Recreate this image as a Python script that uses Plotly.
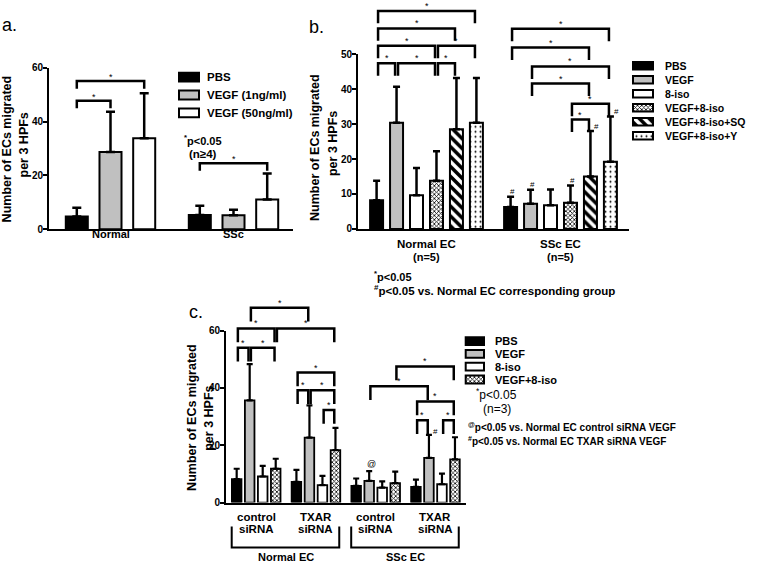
import plotly.graph_objects as go

FONT = "Liberation Sans"
W, H = 757, 567
BLACK = "black"
GRAY = "#c0c0c0"

# ---------------- panel a data ----------------
a_groups = ["Normal", "SSc"]
a_series = ["PBS", "VEGF (1ng/ml)", "VEGF (50ng/ml)"]
a_mean_pbs = [4.7, 5.3]
a_mean_vegf1 = [28.7, 5.2]
a_mean_vegf50 = [33.8, 11.0]
a_sd_pbs = [3.3, 3.4]
a_sd_vegf1 = [14.9, 2.0]
a_sd_vegf50 = [16.7, 9.7]
a_yticks = [0, 20, 40, 60]
# (group1, series1, group2, series2, bracket level)
a_sig = [(0, 0, 0, 1, 47.7), (0, 0, 0, 2, 55.0), (1, 0, 1, 2, 24.5)]

# ---------------- panel b data ----------------
b_groups = ["Normal EC", "SSc EC"]
b_group_n = ["(n=5)", "(n=5)"]
b_series = ["PBS", "VEGF", "8-iso", "VEGF+8-iso", "VEGF+8-iso+SQ", "VEGF+8-iso+Y"]
b_mean_pbs = [8.2, 6.3]
b_mean_vegf = [30.4, 7.2]
b_mean_iso = [9.6, 6.8]
b_mean_vegf_iso = [13.8, 7.5]
b_mean_sq = [28.5, 15.0]
b_mean_y = [30.4, 19.2]
b_sd_pbs = [5.6, 2.9]
b_sd_vegf = [10.3, 4.0]
b_sd_iso = [7.8, 4.5]
b_sd_vegf_iso = [8.4, 4.9]
b_sd_sq = [14.7, 13.0]
b_sd_y = [12.8, 13.0]
b_yticks = [0, 10, 20, 30, 40, 50]
b_sig = [(0, 0, 0, 1, 47.4), (0, 1, 0, 3, 47.4), (0, 3, 0, 4, 47.4),
         (0, 0, 0, 3, 52.4), (0, 3, 0, 5, 52.4), (0, 0, 0, 4, 57.4),
         (0, 0, 0, 5, 62.4),
         (1, 0, 1, 5, 57.3), (1, 0, 1, 4, 51.9), (1, 1, 1, 5, 46.5),
         (1, 1, 1, 4, 41.6), (1, 3, 1, 5, 35.8), (1, 3, 1, 4, 31.3)]
b_hash_top = [(1, 0), (1, 1), (1, 3)]
b_hash_side = [(1, 4), (1, 5)]

# ---------------- panel c data ----------------
c_group_line1 = ["control", "TXAR", "control", "TXAR"]
c_group_line2 = ["siRNA", "siRNA", "siRNA", "siRNA"]
c_super_groups = ["Normal EC", "SSc EC"]
c_series = ["PBS", "VEGF", "8-iso", "VEGF+8-iso"]
c_mean_pbs = [8.2, 7.2, 5.8, 5.5]
c_mean_vegf = [35.7, 22.7, 7.6, 15.6]
c_mean_iso = [9.1, 6.1, 5.2, 6.4]
c_mean_vegf_iso = [11.8, 18.3, 6.8, 15.1]
c_sd_pbs = [3.6, 4.2, 2.6, 2.5]
c_sd_vegf = [12.6, 11.2, 3.4, 8.0]
c_sd_iso = [3.7, 3.2, 2.2, 3.7]
c_sd_vegf_iso = [3.5, 7.8, 4.0, 7.7]
c_yticks = [0, 20, 40, 60]
c_sig = [(0, 0, 0, 1, 54.0), (0, 1, 0, 3, 54.0), (0, 0, 0, 3, 60.8),
         (0, 3, 1, 3, 60.8), (0, 1, 1, 1, 68.0),
         (1, 0, 1, 1, 39.2), (1, 1, 1, 3, 39.2), (1, 0, 1, 3, 45.4),
         (1, 2, 1, 3, 32.3),
         (2, 1, 3, 1, 40.6), (2, 3, 3, 3, 47.5), (3, 0, 3, 3, 35.3),
         (3, 0, 3, 1, 28.7), (3, 2, 3, 3, 28.7)]
c_at_mark = [(2, 1)]
c_hash_mark = [(3, 1)]


# ---------------- styles ----------------
def pattern(shape, size, solidity):
    return dict(shape=shape, size=size, solidity=solidity, fgcolor=BLACK,
                bgcolor="white", fillmode="replace")


STYLE = {
    "PBS": dict(color=BLACK),
    "VEGF (1ng/ml)": dict(color=GRAY),
    "VEGF (50ng/ml)": dict(color="white"),
    "VEGF": dict(color=GRAY),
    "8-iso": dict(color="white"),
    "VEGF+8-iso": dict(color="white", pattern=pattern("x", 3, 0.45)),
    "VEGF+8-iso+SQ": dict(color="white", pattern=pattern("\\", 7, 0.5)),
    "VEGF+8-iso+Y": dict(color="white", pattern=pattern(".", 5, 0.12)),
}


def marker_for(name, lw):
    st = STYLE[name]
    m = dict(color=st["color"], line=dict(color=BLACK, width=lw))
    if "pattern" in st:
        m["pattern"] = st["pattern"]
    return m


def fx(p):
    return p / W


def fy(p):
    return 1 - p / H


fig = go.Figure()
ann = []
shapes = []
layout_axes = {}


def axis_name(a):
    return a[0] + "axis" + (a[1:] if len(a) > 1 else "")


def setup_panel(xa, ya, yb, xpx, g0px, unit, ybot, ytop, ymax, ybr_top, ticks):
    xr = [(xpx[0] - g0px) / unit, (xpx[1] - g0px) / unit]
    layout_axes[axis_name(xa)] = dict(
        domain=[fx(xpx[0]), fx(xpx[1])], range=xr, anchor=ya, showline=True,
        linewidth=2, linecolor=BLACK, ticks="", showticklabels=False,
        showgrid=False, zeroline=False, fixedrange=True)
    layout_axes[axis_name(ya)] = dict(
        domain=[fy(ybot), fy(ytop)], range=[0, ymax], anchor=xa, showline=True,
        linewidth=2, linecolor=BLACK, ticks="outside", ticklen=4, tickwidth=2,
        tickcolor=BLACK, tickvals=ticks, ticklabelstandoff=-2,
        tickfont=dict(family=FONT, size=10, color=BLACK, weight="bold"),
        showgrid=False, zeroline=False, fixedrange=True)
    ppu = (ybot - ytop) / ymax
    layout_axes[axis_name(yb)] = dict(
        domain=[fy(ybot), fy(ybr_top)], range=[0, (ybot - ybr_top) / ppu],
        anchor=xa, visible=False, fixedrange=True)


def pos(g, s, ns, step):
    return g + (s - (ns - 1) / 2) * step


def add_bars(xa, ya, series, means, sds, step, width, lw, capw, thick):
    ns = len(series)
    for s, name in enumerate(series):
        xs = [pos(g, s, ns, step) for g in range(len(means[s]))]
        fig.add_trace(go.Bar(
            x=xs, y=means[s], width=width, marker=marker_for(name, lw),
            error_y=dict(type="data", array=sds[s], arrayminus=[0] * len(sds[s]),
                         symmetric=False, color=BLACK, thickness=thick, width=capw),
            xaxis=xa, yaxis=ya, showlegend=False, hoverinfo="skip"))


def add_brackets(xa, yb, ns, step, sig, leg, inset, star_dy, star_size, lw):
    xs, ys = [], []
    for g1, s1, g2, s2, lvl in sig:
        x1 = pos(g1, s1, ns, step) + inset
        x2 = pos(g2, s2, ns, step) - inset
        xs += [x1, x1, x2, x2, None]
        ys += [lvl - leg, lvl, lvl, lvl - leg, None]
        ann.append(dict(x=(x1 + x2) / 2, y=lvl, xref=xa, yref=yb, text="*",
                        showarrow=False, yanchor="middle", yshift=star_dy,
                        font=dict(family=FONT, size=star_size, color=BLACK)))
    fig.add_trace(go.Scatter(x=xs, y=ys, mode="lines",
                             line=dict(color=BLACK, width=lw),
                             xaxis=xa, yaxis=yb, showlegend=False,
                             hoverinfo="skip"))


def add_legend(xl, yl, series, sx0, sx1, first, step, thick_px, lw, size, gap):
    n = len(series)
    pad = 4.0
    w = sx1 - sx0
    layout_axes[axis_name(xl)] = dict(
        domain=[fx(sx0 - pad), fx(sx1 + pad)], range=[-pad / w, 1 + pad / w],
        anchor=yl, visible=False, fixedrange=True)
    layout_axes[axis_name(yl)] = dict(
        domain=[fy(first + (n - 0.5) * step), fy(first - step / 2)],
        range=[n - 0.5, -0.5], anchor=xl, visible=False, fixedrange=True)
    for i, name in enumerate(series):
        fig.add_trace(go.Bar(x=[1], y=[i], base=[0], orientation="h",
                             width=thick_px / step, marker=marker_for(name, lw),
                             xaxis=xl, yaxis=yl, showlegend=False,
                             hoverinfo="skip"))
        ann.append(dict(x=1, y=i, xref=xl, yref=yl, text=name, showarrow=False,
                        xanchor="left", yanchor="middle", xshift=gap,
                        font=dict(family=FONT, size=size, color=BLACK,
                                  weight="bold")))


def text(x, y, t, size, xref="paper", xanchor="center", bold=True, angle=0,
         yanchor="middle"):
    ann.append(dict(x=x, y=fy(y), xref=xref, yref="paper", text=t,
                    showarrow=False, xanchor=xanchor, yanchor=yanchor,
                    textangle=angle,
                    font=dict(family=FONT, size=size, color=BLACK,
                              weight="bold" if bold else "normal")))


TITLE_SIZE = 12.5

# ================= panel a =================
A_STEP = 0.274
setup_panel("x", "y", "y4", (49, 293), 110.5, 123, 228, 63, 60, 40, a_yticks)
add_bars("x", "y", a_series,
         [a_mean_pbs, a_mean_vegf1, a_mean_vegf50],
         [a_sd_pbs, a_sd_vegf1, a_sd_vegf50],
         A_STEP, 0.179, 2, 4.5, 2.5)
add_brackets("x", "y4", 3, A_STEP, a_sig, 2.8, 0.0, 4, 9, 2.5)
add_legend("x7", "y7", a_series, 179, 199, 72.7, 18.2, 9, 2, 11.5, 6)
for g, lab in enumerate(a_groups):
    text(g, 233, lab, 11, xref="x")
text(fx(7), 146.5, "Number of ECs migrated", TITLE_SIZE, angle=-90)
text(fx(24), 142.5, "per 3 HPFs", TITLE_SIZE, angle=-90)
text(fx(0), 19, "a.", 18, xanchor="left", bold=False)
text(fx(182), 137, "<sup>*</sup>p<0.05", 11, xanchor="left")
text(fx(187), 151, "(n≥4)", 11.5, xanchor="left")

# ================= panel b =================
B_STEP = 0.149
setup_panel("x2", "y2", "y5", (358, 629), 426.5, 134, 227.7, 49.3, 50, 0, b_yticks)
b_means = [b_mean_pbs, b_mean_vegf, b_mean_iso, b_mean_vegf_iso, b_mean_sq, b_mean_y]
b_sds = [b_sd_pbs, b_sd_vegf, b_sd_iso, b_sd_vegf_iso, b_sd_sq, b_sd_y]
add_bars("x2", "y2", b_series, b_means, b_sds, B_STEP, 0.097, 2, 3.5, 2.5)
add_brackets("x2", "y5", 6, B_STEP, b_sig, 3.55, 0.011, 5, 9, 2.5)
add_legend("x8", "y8", b_series, 633, 653, 61, 14.3, 7.7, 2, 10.5, 10)
for g, s in b_hash_top:
    ann.append(dict(x=pos(g, s, 6, B_STEP), y=b_means[s][g] + b_sds[s][g],
                    xref="x2", yref="y2", text="#", showarrow=False,
                    yanchor="bottom", xshift=2, yshift=-1,
                    font=dict(family=FONT, size=8, color=BLACK)))
for g, s in b_hash_side:
    ann.append(dict(x=pos(g, s, 6, B_STEP), y=b_means[s][g] + b_sds[s][g],
                    xref="x2", yref="y2", text="#", showarrow=False,
                    xanchor="left", yanchor="bottom", xshift=2, yshift=-2,
                    font=dict(family=FONT, size=8, color=BLACK)))
for g, lab in enumerate(b_groups):
    text(g, 243, lab, 11.5, xref="x2")
    text(g, 256, b_group_n[g], 11, xref="x2")
text(fx(315), 145, "Number of ECs migrated", TITLE_SIZE, angle=-90)
text(fx(333), 141, "per 3 HPFs", TITLE_SIZE, angle=-90)
text(fx(307), 21, "b.", 18, xanchor="left", bold=False)
text(fx(372), 276, "<sup>*</sup>p<0.05", 11, xanchor="left")
text(fx(372), 290, "<sup>#</sup>p<0.05 vs. Normal EC corresponding group", 11.5,
     xanchor="left")

# ================= panel c =================
C_STEP = 0.2178
setup_panel("x3", "y3", "y6", (226, 466), 256.2, 59.75, 507.3, 331.7, 60, 290, c_yticks)
c_means = [c_mean_pbs, c_mean_vegf, c_mean_iso, c_mean_vegf_iso]
c_sds = [c_sd_pbs, c_sd_vegf, c_sd_iso, c_sd_vegf_iso]
add_bars("x3", "y3", c_series, c_means, c_sds, C_STEP, 0.16, 1.8, 3, 2.2)
add_brackets("x3", "y6", 4, C_STEP, c_sig, 4.8, 0.02, 5, 9, 2.5)
add_legend("x9", "y9", c_series, 465.7, 484, 342.3, 13.1, 8, 2, 11, 9)
for g, s in c_at_mark:
    ann.append(dict(x=pos(g, s, 4, C_STEP), y=c_means[s][g] + c_sds[s][g],
                    xref="x3", yref="y3", text="@", showarrow=False,
                    yanchor="bottom", xshift=2, yshift=0,
                    font=dict(family=FONT, size=9, color=BLACK)))
for g, s in c_hash_mark:
    ann.append(dict(x=pos(g, s, 4, C_STEP), y=c_means[s][g] + c_sds[s][g],
                    xref="x3", yref="y3", text="#", showarrow=False,
                    xanchor="left", yanchor="bottom", xshift=2, yshift=-3,
                    font=dict(family=FONT, size=8, color=BLACK)))
for g in range(4):
    text(g, 522.3, c_group_line1[g], 11.5, xref="x3")
    text(g, 534.5, c_group_line2[g], 11.5, xref="x3")
for k, lab in enumerate(c_super_groups):
    gl, gr = 2 * k, 2 * k + 1
    xl, xr = gl - 0.41, gr + 0.39
    shapes.append(dict(type="path", xref="x3", yref="paper",
                       path=f"M {xl},{fy(531.7)} L {xl},{fy(553.3)} L {xr},{fy(553.3)} L {xr},{fy(531.7)}",
                       line=dict(color=BLACK, width=2)))
    text((gl + gr) / 2, 563, lab, 11, xref="x3")
text(fx(192), 420.8, "Number of ECs migrated", TITLE_SIZE, angle=-90)
text(fx(209), 421.7, "per 3 HPFs", TITLE_SIZE, angle=-90)
text(fx(187), 313, "c.", 18, xanchor="left", bold=False)
text(fx(474), 396, "<sup>*</sup>p<0.05", 12, xanchor="left", bold=False)
text(fx(481), 412, "(n=3)", 12, xanchor="left", bold=False)
text(fx(466), 430, "<sup>@</sup>p<0.05 vs. Normal EC control siRNA VEGF", 10,
     xanchor="left")
text(fx(466), 444.5, "<sup>#</sup>p<0.05 vs. Normal EC TXAR siRNA VEGF", 10,
     xanchor="left")

fig.update_layout(
    width=W, height=H, margin=dict(l=0, r=0, t=0, b=0),
    paper_bgcolor="white", plot_bgcolor="rgba(0,0,0,0)",
    barmode="overlay", showlegend=False,
    font=dict(family=FONT, color=BLACK),
    annotations=ann, shapes=shapes,
    **layout_axes,
)
fig.write_html("out.html", config={"displayModeBar": False},
               post_script="document.body.style.margin='0';document.body.style.overflow='hidden';")
